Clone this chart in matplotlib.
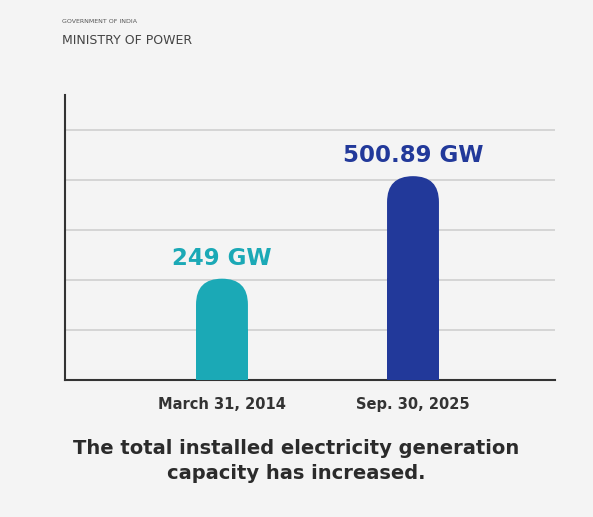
import matplotlib
matplotlib.use("Agg")
import matplotlib.pyplot as plt
from matplotlib.patches import FancyBboxPatch, Rectangle

categories = ["March 31, 2014", "Sep. 30, 2025"]
values = [249, 500.89]
value_labels = ["249 GW", "500.89 GW"]
colors = ["#1ba9b6", "#22399a"]

fig = plt.figure(figsize=(5.93, 5.17), dpi=100)
fig.patch.set_facecolor("#f4f4f4")
ax = fig.add_axes([0.110, 0.265, 0.826, 0.551])
ax.set_facecolor("none")
ymax = 700
ax.set_xlim(0, 1)
ax.set_ylim(0, ymax)
for y in [123, 246, 369, 492, 615]:
    ax.axhline(y, color="#cfcfcf", lw=1.2, zorder=0)
for s in ["top", "right"]:
    ax.spines[s].set_visible(False)
for s in ["left", "bottom"]:
    ax.spines[s].set_color("#333333")
    ax.spines[s].set_linewidth(1.5)
ax.set_yticks([])
xs = [0.32, 0.71]
ax.set_xticks(xs)
ax.set_xticklabels(categories, fontsize=10.5, fontweight="bold", color="#333333")
ax.tick_params(axis="x", length=0, pad=12)

w = 0.106
xpp = 1.0 / (0.826 * 593)
ypp = ymax / (0.551 * 517)
r = w / 2
for x, v, c, lab in zip(xs, values, colors, value_labels):
    p = FancyBboxPatch((x - w / 2, 0), w, v, boxstyle=f"round,pad=0,rounding_size={r}",
                       mutation_aspect=ypp / xpp, fc=c, ec="none", lw=0, zorder=3)
    ax.add_patch(p)
    ax.add_patch(Rectangle((x - w / 2, 0), w, v / 2, fc=c, ec="none", lw=0, zorder=3))
    ax.text(x, v + 22, lab, ha="center", va="bottom", fontsize=16.5,
            fontweight="bold", color=c)

fig.text(0.105, 0.955, "GOVERNMENT OF INDIA", fontsize=4.5, color="#555555")
fig.text(0.105, 0.915, "MINISTRY OF POWER", fontsize=9, color="#444444")
fig.text(0.5, 0.108, "The total installed electricity generation\ncapacity has increased.",
         ha="center", va="center", fontsize=14, fontweight="bold", color="#2b2b2b",
         linespacing=1.4)
fig.savefig("out.png", dpi=100, facecolor=fig.get_facecolor())
